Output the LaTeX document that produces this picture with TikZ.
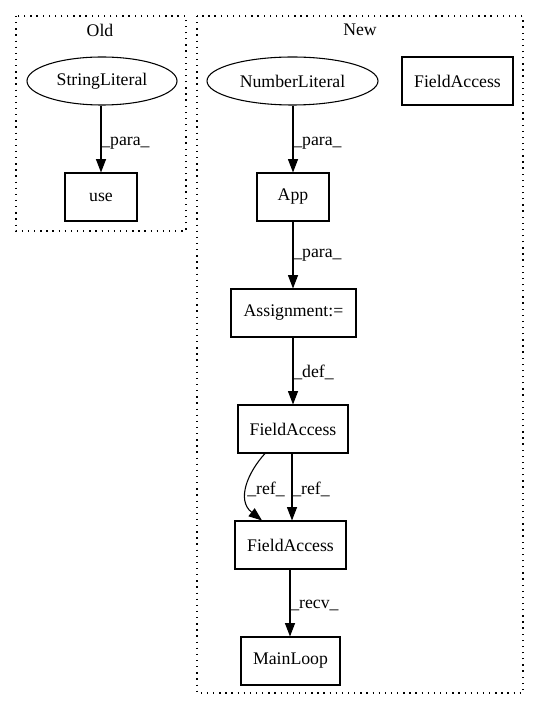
\documentclass[tikz,border=0pt]{standalone}
\usepackage{fontspec}
\setmainfont{Liberation Serif}
\usetikzlibrary{arrows.meta,shapes.geometric}
\begin{document}
\begin{tikzpicture}[x=0.75pt,y=-0.75pt,
  every node/.style={font=\fontsize{13.3}{16}\selectfont},
  box/.style={draw,thick,inner sep=0pt,minimum height=36pt},
  ell/.style={draw,thick,ellipse,inner sep=0pt,minimum height=36pt},
  cluster/.style={draw,thick,dash pattern=on 1pt off 3.6pt},
  edge/.style={thick,-{Triangle[length=10pt,width=7.5pt]}},
  lab/.style={right,inner sep=0pt}]
\useasboundingbox (0,0) rectangle (540,712);
% clusters
\draw[cluster] (16,16) rectangle (186,231);
\node (oldlab) at (100,30) {Old};
\draw[cluster] (197,16) rectangle (523,693);
\node (newlab) at (360,30) {New};
% Old
\node[ell,minimum width=112.5pt] (sl) at (102,81) {StringLiteral};
\node[box,minimum width=54pt] (use) at (101,197) {use};
\draw[edge] (sl.south -| use) -- (use);
\node[lab] (l0) at (101,143) {\_para\_};
% New
\node[ell,minimum width=128.25pt] (nl) at (292.5,81) {NumberLiteral};
\node[box,minimum width=83.25pt] (fa0) at (457.5,81) {FieldAccess};
\node[box,minimum width=54pt] (app) at (293,197) {App};
\node[box,minimum width=93.75pt] (asg) at (293.5,313) {Assignment:=};
\node[box,minimum width=82.5pt] (fa1) at (293,429) {FieldAccess};
\node[box,minimum width=83.25pt] (fa2) at (290.5,545) {FieldAccess};
\node[box,minimum width=74.25pt] (ml) at (290.5,661) {MainLoop};
\draw[edge] (nl.south -| app) -- (app);
\node[lab] (l1) at (293,143) {\_para\_};
\draw[edge] (app.south) -- (app.south |- asg.north);
\node[lab] (l2) at (293,255) {\_para\_};
\draw[edge] (asg.south -| fa1) -- (fa1.north);
\node[lab] (l3) at (293,372) {\_def\_};
\draw[edge] (fa1.south -| 292,0) -- (fa2.north -| 292,0);
\node[lab] (l4) at (292,489) {\_ref\_};
\draw[edge] (fa1.south -| 265,0) .. controls (248,472) and (236,500) .. (fa2.north -| 262,0);
\node[lab] (l5) at (247,489) {\_ref\_};
\draw[edge] (fa2.south -| 290,0) -- (ml.north -| 290,0);
\node[lab] (l6) at (290,605) {\_recv\_};
\end{tikzpicture}
\end{document}
